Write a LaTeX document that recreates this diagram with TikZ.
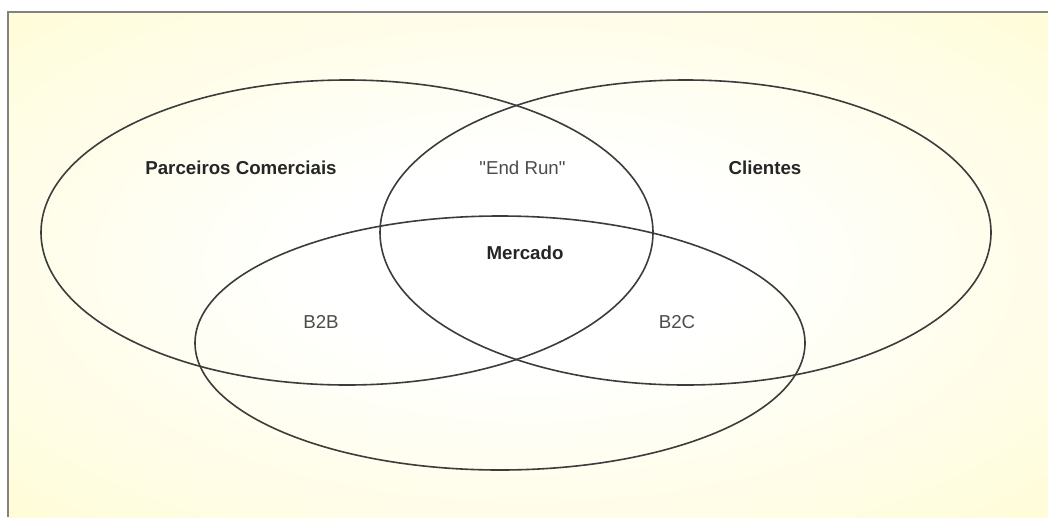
\documentclass[tikz,border=0pt]{standalone}
\usepackage{fontspec}
\setmainfont{Liberation Sans}
\newfontfamily\straightfont{Liberation Sans}
\usetikzlibrary{shapes.geometric}

\definecolor{bgyellow}{RGB}{255,251,200}
\definecolor{framegray}{RGB}{130,130,130}
\definecolor{linegray}{RGB}{60,60,60}

% soft glow from the middle
\pgfdeclareradialshading{glow}{\pgfpoint{0bp}{0bp}}{color(0bp)=(white); color(10bp)=(white); color(46bp)=(bgyellow); color(72bp)=(bgyellow)}

\begin{document}
\begin{tikzpicture}[x=1pt, y=-1pt,
    venn/.style={ellipse, draw=linegray, line width=1.6pt, inner sep=0pt, outer sep=0pt},
    bold/.style={anchor=base, inner sep=0pt, text=black!85, font=\fontsize{18.7}{22}\selectfont\bfseries},
    plain/.style={anchor=base, inner sep=0pt, text=black!70, font=\fontsize{18.7}{22}\selectfont\straightfont}]
    \useasboundingbox (0,0) rectangle (1048,517);

    % Background and frame
    \fill[white] (0,0) rectangle (1048,517);
    \shade[shading=glow] (7,11) rectangle (1048,517);
    \draw[framegray, line width=2pt] (7.5,517) -- (7.5,11.5) -- (1048,11.5);

    % Sets
    \node[venn, minimum width=612pt, minimum height=305pt] (parceiros) at (347,232.5) {};
    \node[venn, minimum width=611pt, minimum height=305pt] (clientes) at (685.5,232.5) {};
    \node[venn, minimum width=610pt, minimum height=254pt] (b2x) at (500,343) {};

    % Labels
    \node[bold] (lparceiros) at (241,174) {Parceiros Comerciais};
    \node[bold] (lclientes) at (765,174) {Clientes};
    \node[plain] (lendrun) at (522.5,174) {"End Run"};
    \node[bold] (lmercado) at (525,259) {Mercado};
    \node[plain] (lb2b) at (321,328) {B2B};
    \node[plain] (lb2c) at (677,328) {B2C};
\end{tikzpicture}
\end{document}
